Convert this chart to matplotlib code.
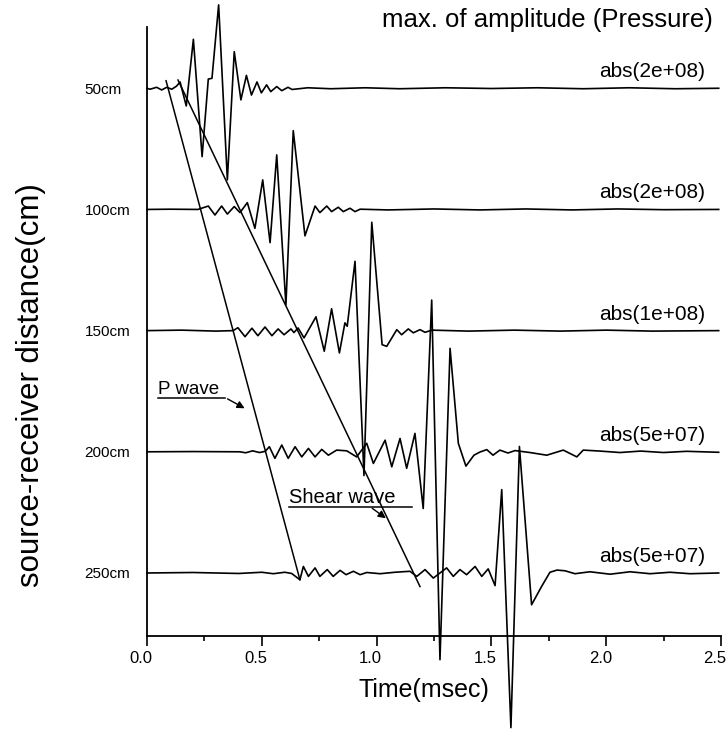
import numpy as np
import matplotlib.pyplot as plt
import matplotlib.transforms as mtransforms

plt.rcParams['font.family'] = ['Liberation Sans', 'DejaVu Sans']
narrow = ['Liberation Sans Narrow', 'Liberation Sans', 'DejaVu Sans']

# receiver offsets and the labels drawn with them
offsets = [50, 100, 150, 200, 250]
offset_labels = ['50cm', '100cm', '150cm', '200cm', '250cm']
scale_labels = ['abs(2e+08)', 'abs(2e+08)', 'abs(1e+08)', 'abs(5e+07)', 'abs(5e+07)']

# trace turning points: time (msec), deflection (cm, up = +)
t50 = [0.0, 0.013, 0.042, 0.064, 0.086, 0.108, 0.129, 0.144, 0.171, 0.202, 0.240, 0.267, 0.283,
       0.312, 0.350, 0.380, 0.409, 0.433, 0.455, 0.479, 0.498, 0.521, 0.539, 0.565, 0.587, 0.614,
       0.632, 0.70, 0.80, 0.95, 1.10, 1.30, 1.50, 1.70, 1.90, 2.10, 2.30, 2.49]
a50 = [0.0, -0.4, 0.4, -0.7, 0.4, -0.4, 0.9, 2.6, -7.3, 20.2, -28.2, 3.8, 4.1,
       34.4, -37.8, 15.1, -4.8, 5.3, -2.8, 2.6, -1.9, 1.4, -1.4, 0.7, -1.0, 0.4,
       -0.5, 0.2, -0.2, 0.2, -0.2, 0.2, -0.1, 0.2, -0.2, 0.2, -0.2, 0.0]

t100 = [0.0, 0.10, 0.222, 0.267, 0.296, 0.325, 0.350, 0.380, 0.405, 0.437, 0.470, 0.504, 0.536,
        0.565, 0.605, 0.637, 0.688, 0.732, 0.753, 0.783, 0.804, 0.833, 0.855, 0.884, 0.906, 0.928,
        1.05, 1.25, 1.45, 1.65, 1.85, 2.05, 2.25, 2.49]
a100 = [0.0, 0.1, 0.0, 1.4, -2.3, 1.4, -1.9, 1.2, -1.3, 2.8, -7.8, 12.2, -13.7,
        22.5, -39.4, 32.5, -10.9, 1.4, -1.3, 1.4, -0.9, 0.9, -0.9, 0.5, -0.9, 0.1,
        -0.2, 0.2, -0.2, 0.2, -0.2, 0.2, -0.1, 0.0]

t150 = [0.0, 0.15, 0.30, 0.375, 0.396, 0.427, 0.457, 0.483, 0.514, 0.544, 0.571, 0.597, 0.627,
        0.640, 0.658, 0.684, 0.736, 0.772, 0.804, 0.838, 0.862, 0.872, 0.906, 0.945, 0.979, 1.024,
        1.044, 1.088, 1.109, 1.138, 1.160, 1.189, 1.211, 1.241, 1.40, 1.60, 1.80, 2.00, 2.20, 2.49]
a150 = [0.0, 0.2, -0.2, 0.0, 1.2, -2.5, 1.0, -2.1, 1.5, -2.1, 0.7, -1.7, 0.7,
        -0.8, 1.1, -3.0, 5.7, -8.5, 9.0, -9.2, 3.2, 1.8, 28.6, -59.8, 44.7, -5.8,
        -6.5, 0.4, -1.7, 0.7, -0.9, 0.4, -0.7, 0.2, -0.2, 0.2, -0.2, 0.2, -0.2, 0.0]

t200 = [0.0, 0.20, 0.405, 0.43, 0.46, 0.49, 0.515, 0.533, 0.557, 0.587, 0.615, 0.645, 0.674,
        0.703, 0.732, 0.761, 0.790, 0.826, 0.870, 0.913, 0.957, 0.986, 1.037, 1.066, 1.102, 1.131,
        1.167, 1.203, 1.240, 1.276, 1.320, 1.356, 1.389, 1.424, 1.450, 1.480, 1.507, 1.537, 1.572,
        1.603, 1.668, 1.741, 1.813, 1.872, 1.900, 1.973, 2.06, 2.15, 2.25, 2.35, 2.49]
a200 = [0.0, 0.1, 0.0, -0.4, 0.4, -0.3, 0.2, 2.1, -2.7, 2.8, -2.7, 2.1, -2.1,
        1.4, -2.1, 1.0, -1.4, 0.7, 0.4, -2.1, 3.5, -4.8, 4.8, -6.2, 5.5, -6.8,
        7.6, -23.4, 62.6, -85.8, 42.7, 3.5, -5.9, -1.4, -0.1, 0.9, -1.4, 0.7, -0.5,
        0.5, -0.3, -1.4, 0.7, -2.1, 0.7, 0.3, -0.3, 0.3, -0.3, 0.2, -0.2]

t250 = [0.0, 0.20, 0.40, 0.50, 0.55, 0.60, 0.63, 0.666, 0.681, 0.703, 0.732, 0.753, 0.785,
        0.811, 0.841, 0.867, 0.899, 0.928, 0.957, 1.015, 1.080, 1.145, 1.175, 1.211, 1.247, 1.305,
        1.334, 1.363, 1.392, 1.429, 1.458, 1.486, 1.516, 1.545, 1.585, 1.622, 1.675, 1.719, 1.755,
        1.786, 1.821, 1.864, 1.929, 2.017, 2.104, 2.191, 2.278, 2.365, 2.49]
a250 = [0.0, 0.2, -0.2, 0.3, -0.3, 0.3, -0.2, -2.8, 2.7, -1.4, 2.1, -1.4, 1.4,
        -1.4, 1.1, -0.7, 0.7, -0.7, 0.2, -0.3, 0.3, 0.7, -1.4, 1.4, -2.1, 2.1,
        -1.4, 1.4, -0.7, 2.7, -1.4, 1.7, -5.2, 34.4, -63.8, 52.2, -13.1, -5.5, 0.3,
        1.2, 0.9, -0.3, 0.5, -0.5, 0.5, -0.3, 0.3, -0.3, 0.0]

traces_t = [t50, t100, t150, t200, t250]
traces_a = [a50, a100, a150, a200, a250]

# picked arrival lines (time, distance)
p_wave_t = [0.083, 0.666]
p_wave_d = [46.9, 252.8]
shear_t = [0.135, 1.189]
shear_d = [46.6, 255.6]

fig = plt.figure(figsize=(7.26, 7.33), dpi=100)
ax = fig.add_axes([147 / 726, 1 - 636 / 733, 574 / 726, 609.3 / 733])

for off, tt, aa in zip(offsets, traces_t, traces_a):
    ax.plot(tt, off - np.array(aa), color='black', lw=1.2, clip_on=False, zorder=3)

ax.plot(p_wave_t, p_wave_d, color='black', lw=1.1, clip_on=False)
ax.plot(shear_t, shear_d, color='black', lw=1.1, clip_on=False)

# scale factor for each trace
for off, lab in zip(offsets, scale_labels):
    ax.text(2.43, off - 6.8, lab, ha='right', va='center', fontsize=15)

# wave annotations
ax.text(0.048, 176.1, 'P wave', fontsize=13.5, va='baseline')
ax.plot([0.048, 0.340], [177.6, 177.6], color='black', lw=1.1)
ax.annotate('', xy=(0.436, 182.6), xytext=(0.340, 177.6),
            arrowprops=dict(arrowstyle='-|>', color='black', lw=1.0, mutation_scale=11))

ax.text(0.618, 221.0, 'Shear wave', fontsize=14.5, va='baseline')
ax.plot([0.618, 1.154], [222.6, 222.6], color='black', lw=1.1)
ax.annotate('', xy=(1.050, 228.1), xytext=(0.971, 222.6),
            arrowprops=dict(arrowstyle='-|>', color='black', lw=1.0, mutation_scale=11))

ax.set_xlim(0, 2.5)
ax.set_ylim(276, 24.6)
ax.set_xticks(np.arange(0, 2.51, 0.5))
ax.set_xticks(np.arange(0.25, 2.5, 0.5), minor=True)
ax.set_xticklabels([f'{v:.1f}' for v in np.arange(0, 2.51, 0.5)], family=narrow, fontsize=12)
ax.set_yticks(offsets)
ax.set_yticklabels(offset_labels, family=narrow, fontsize=11, ha='left')
ax.tick_params(axis='x', which='major', length=7, width=1.2, pad=4)
ax.tick_params(axis='x', which='minor', length=3.6, width=1.2)
ax.tick_params(axis='y', length=0, pad=45)

# the x tick labels sit a little left of their ticks in the original
shift = mtransforms.ScaledTranslation(-6 / 100, 0, fig.dpi_scale_trans)
for lbl in ax.get_xticklabels():
    lbl.set_transform(lbl.get_transform() + shift)

for s in ['top', 'right']:
    ax.spines[s].set_visible(False)
for s in ['left', 'bottom']:
    ax.spines[s].set_linewidth(1.3)

ax.set_xlabel('Time(msec)', fontsize=18)
ax.xaxis.set_label_coords(0.483, -0.069)
ax.set_ylabel('source-receiver distance(cm)', fontsize=22.5)
ax.yaxis.label.set_va('center')
ax.yaxis.set_label_coords(-0.202, 0.412)

fig.text(713 / 726, 1 - 20 / 733, 'max. of amplitude (Pressure)', ha='right', va='center', fontsize=18.5)

fig.savefig('out.png', dpi=100)
